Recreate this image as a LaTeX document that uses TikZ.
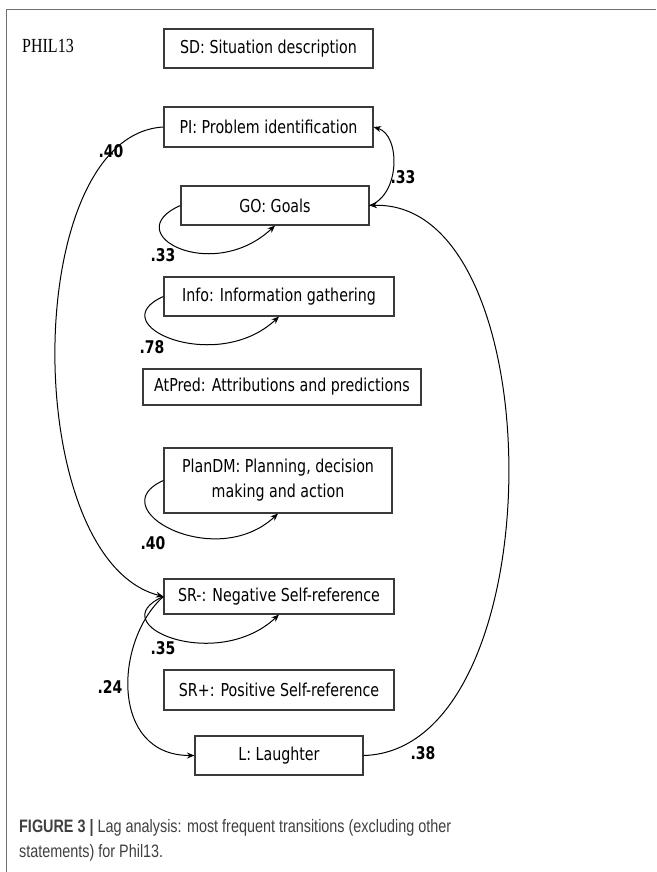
\documentclass[tikz,border=0pt]{standalone}
\usepackage{fontspec}
\setmainfont[FakeStretch=0.8]{Liberation Serif}
\newfontfamily\boxfont[FakeStretch=0.8]{DejaVu Sans}
\newfontfamily\capfont[FakeStretch=0.8]{Liberation Sans}
\usetikzlibrary{arrows.meta,positioning}
\definecolor{boxline}{HTML}{3A3A3A}
\definecolor{frameline}{HTML}{707070}
\definecolor{captext}{HTML}{404040}
\tikzset{state/.style={rectangle,draw=boxline,line width=1.1pt,inner sep=0pt,align=center,
                       font=\boxfont\fontsize{17.8}{25}\selectfont},
         lag/.style={rectangle,draw=none,inner sep=0pt,font=\boxfont\bfseries\fontsize{17.5}{20}\selectfont},
         trans/.style={->,line width=1pt},
         caption line/.style={anchor=base west,inner sep=0pt,text=captext,font=\capfont\fontsize{18}{25}\selectfont},
}

\begin{document}
\begin{tikzpicture}[x=1pt,y=-1pt,
>={Stealth[length=7.5pt,width=6pt]}]
% \draw[help lines,step=50] (0,0) grid (656,872);
\useasboundingbox (0,0) rectangle (656,872);
\draw[frameline,line width=1pt] (6,872) |- (656,9.5);

\node[anchor=base west,inner sep=0pt,font=\fontsize{20}{24}\selectfont] (title) at (22,53) {PHIL13};

\node[state,minimum width=209,minimum height=39] (SD) at (268.5,48.5) {SD: Situation description};
\node[state,minimum width=209,minimum height=40] (PI) at (268.5,127) {PI: Problem identification};
\node[state,minimum width=188,minimum height=39] (GO) at (275,205.5) {GO: Goals};
\node[state,minimum width=230,minimum height=39] (Info) at (279,296.5) {Info: Information gathering};
\node[state,minimum width=278,minimum height=36] (AtPred) at (282,387) {AtPred: Attributions and predictions};
\node[state,minimum width=228,minimum height=65] (PlanDM) at (278,480.5) {PlanDM: Planning, decision\\making and action};
\node[state,minimum width=230,minimum height=35] (SRneg) at (279,596.5) {SR-: Negative Self-reference};
\node[state,minimum width=230,minimum height=40] (SRpos) at (279,690) {SR+: Positive Self-reference};
\node[state,minimum width=168,minimum height=39] (L) at (279,755.5) {L: Laughter};

% transitions between categories
\draw[trans] (PI.west) .. controls +(-144,8) and +(-144,-36.5) .. (SRneg.west);
\draw[trans] (GO.east) .. controls +(31,-10.5) and +(27,8) .. (PI.east);
\draw[trans] (SRneg.west) .. controls +(-49,43.5) and +(-85,0) .. (L.west);
\draw[trans] (L.east) .. controls +(192,-5) and +(186,-6) .. (GO.east);

% self loops
\draw[trans] (GO.west) .. controls +(-64,28) and +(-63,59) .. (GO.south);
\draw[trans] (Info.west) .. controls +(-64,28) and +(-63,59) .. (Info.south);
\draw[trans] (PlanDM.west) .. controls +(-64,28) and +(-63,59) .. (PlanDM.south);
\draw[trans] (SRneg.west) .. controls +(-64,28) and +(-63,59) .. (SRneg.south);

\node[lag] (pisr) at (111,151) {.40};
\node[lag] (gopi) at (403,177) {.33};
\node[lag] (gogo) at (163,255) {.33};
\node[lag] (infoinfo) at (152,347) {.78};
\node[lag] (planplan) at (153,543) {.40};
\node[lag] (srsr) at (163,648) {.35};
\node[lag] (srl) at (110,687) {.24};
\node[lag] (lgo) at (423,753) {.38};

\node[caption line] (cap1) at (19,832) {\textbf{FIGURE 3 |} Lag analysis: most frequent transitions (excluding other};
\node[caption line] (cap2) at (19,857) {statements) for Phil13.};
\end{tikzpicture}
\end{document}
